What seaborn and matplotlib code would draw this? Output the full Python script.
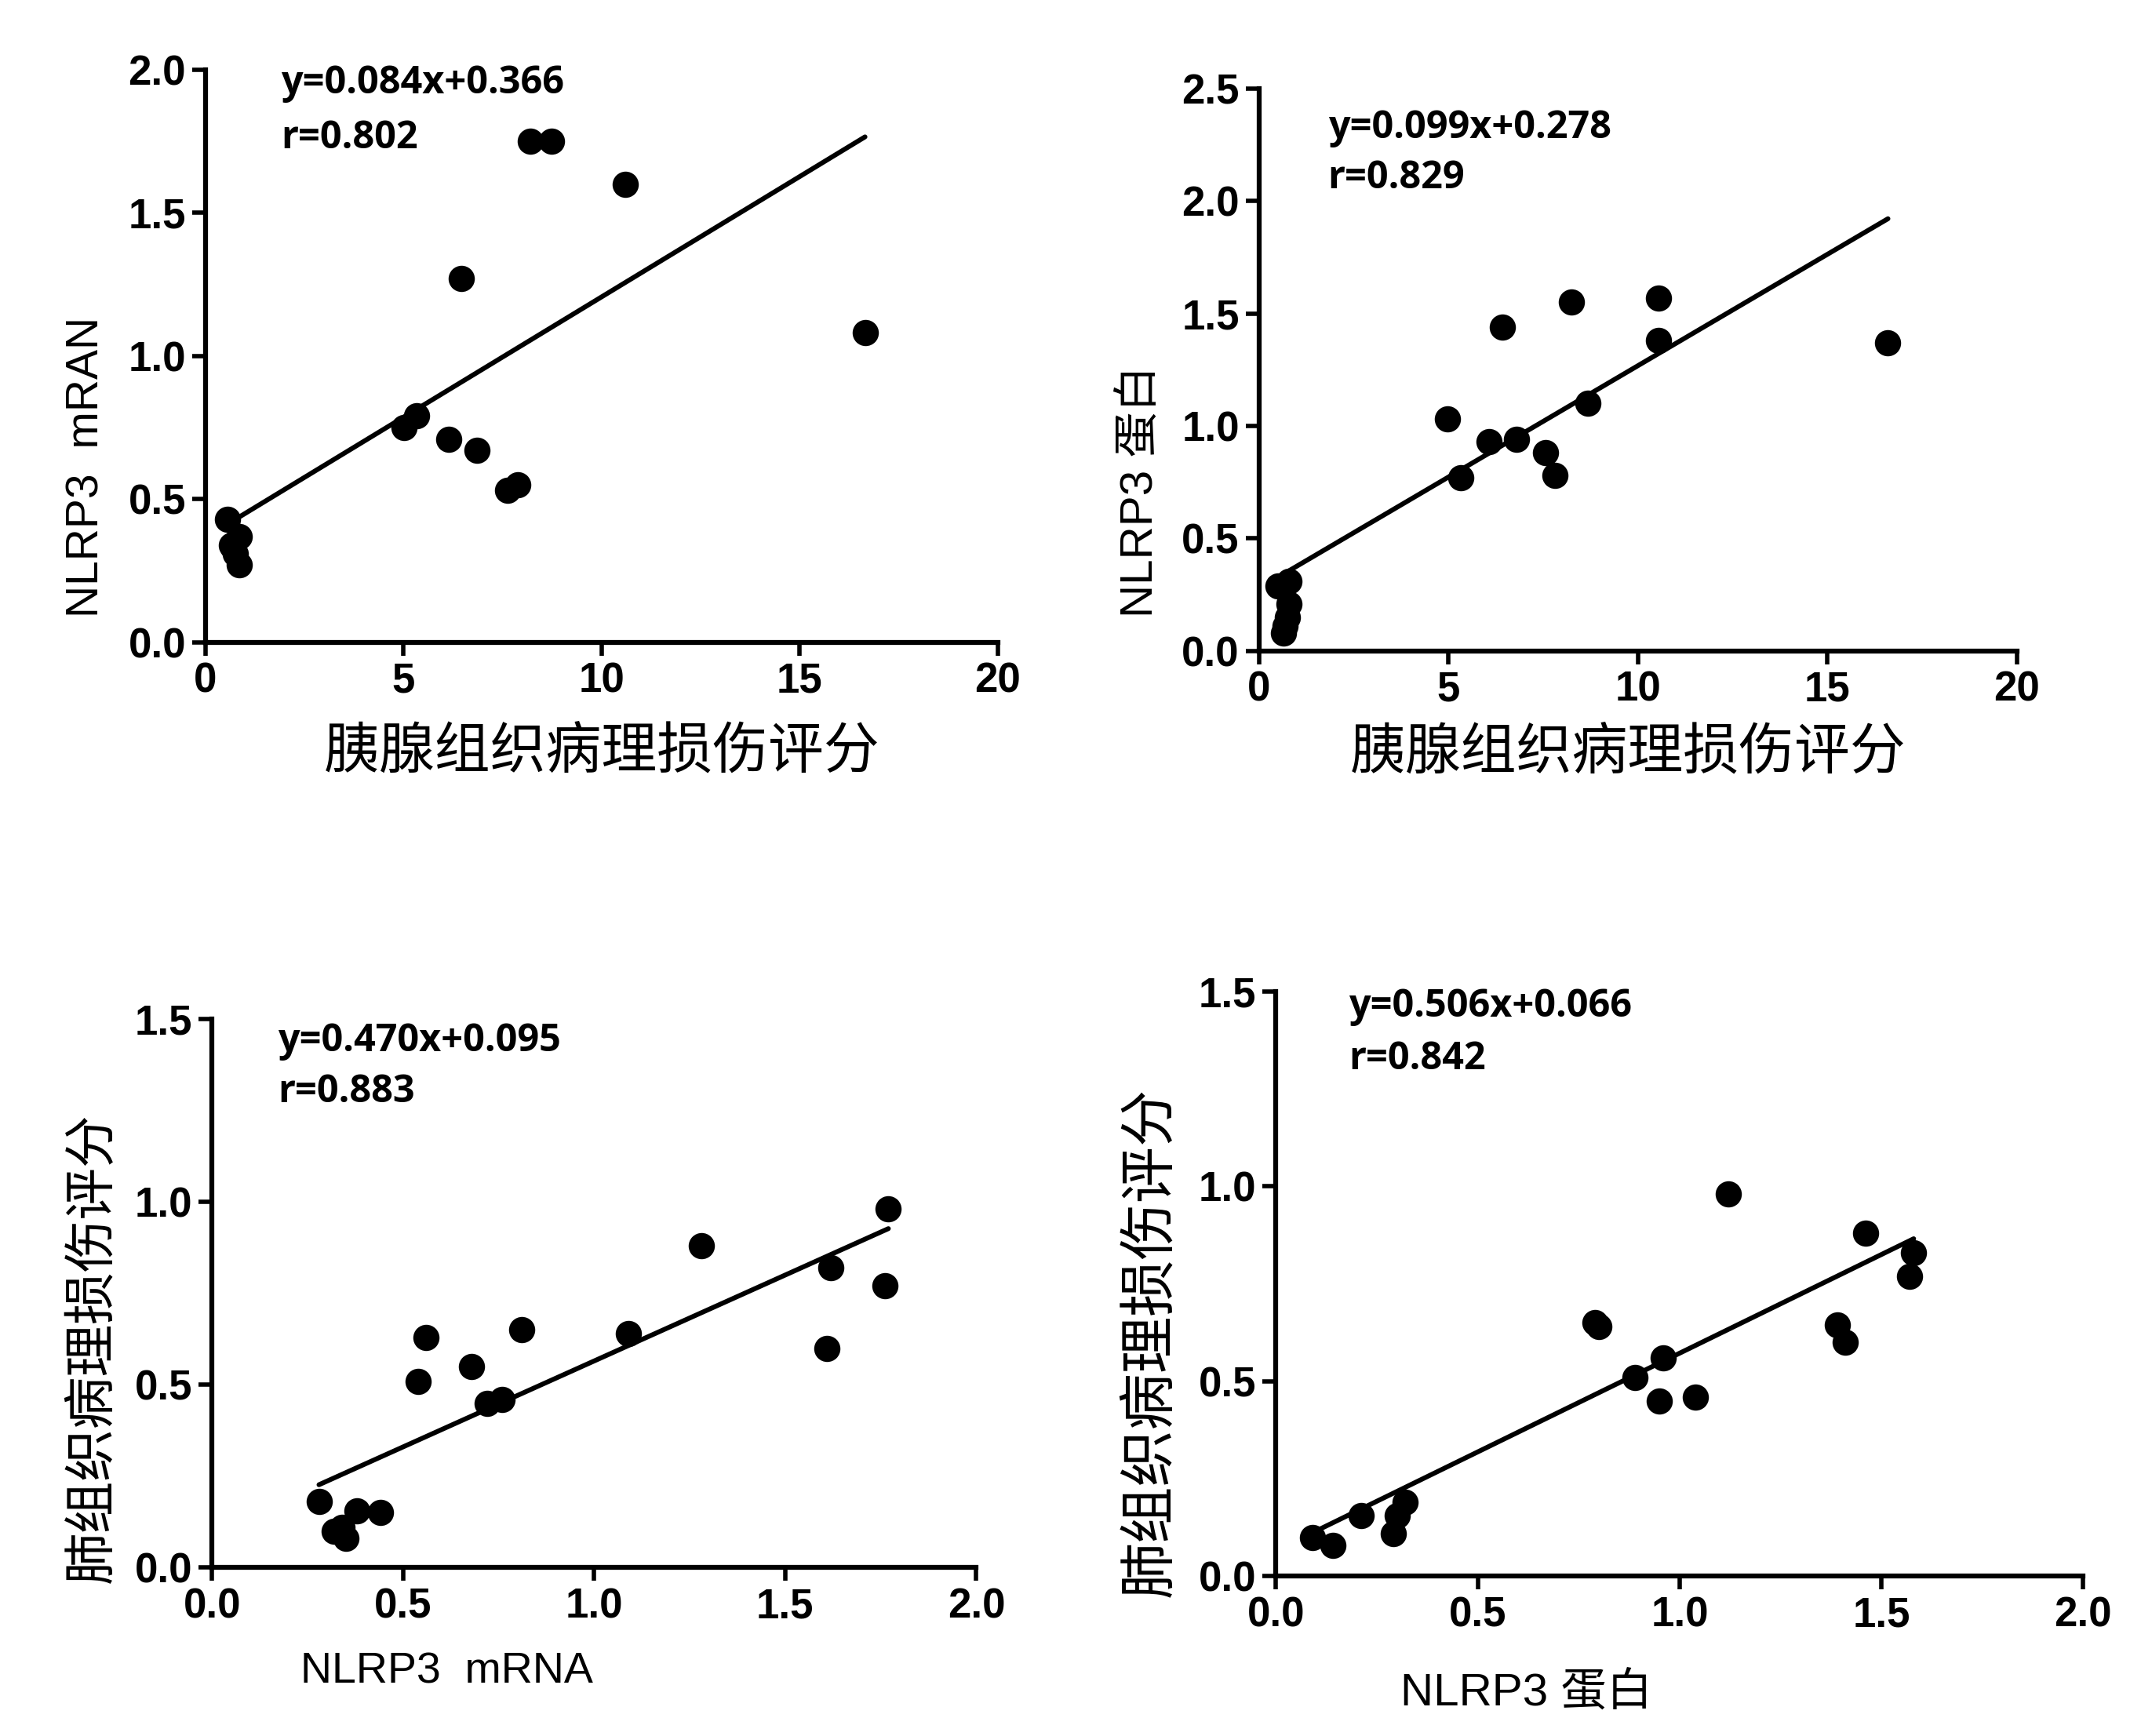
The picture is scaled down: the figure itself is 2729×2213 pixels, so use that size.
import numpy as np
import pandas as pd
import seaborn as sns
import matplotlib.pyplot as plt

# %% data -------------------------------------------------------------
# top left: pancreas score vs NLRP3 mRNA
p1_x = [0.55, 0.65, 0.85, 0.75, 0.85, 0.70, 5.02, 5.33, 6.15, 6.45, 6.85, 7.63, 7.89, 8.20, 8.73, 10.60, 16.65]
p1_y = [0.43, 0.34, 0.37, 0.31, 0.27, 0.33, 0.75, 0.79, 0.71, 1.27, 0.67, 0.53, 0.55, 1.75, 1.75, 1.60, 1.08]

# top right: pancreas score vs NLRP3 protein
p2_x = [0.50, 0.80, 0.80, 0.75, 0.70, 0.65, 4.98, 5.32, 6.08, 6.43, 6.80, 7.56, 7.82, 8.24, 8.69, 10.55, 10.55, 16.60]
p2_y = [0.29, 0.31, 0.21, 0.15, 0.11, 0.08, 1.03, 0.77, 0.93, 1.44, 0.94, 0.88, 0.78, 1.55, 1.10, 1.57, 1.38, 1.37]

# bottom left: NLRP3 mRNA vs lung score
p3_x = [0.28, 0.32, 0.34, 0.35, 0.38, 0.44, 0.54, 0.56, 0.68, 0.72, 0.76, 0.81, 1.09, 1.28, 1.61, 1.62, 1.76, 1.77]
p3_y = [0.18, 0.10, 0.11, 0.08, 0.155, 0.15, 0.51, 0.63, 0.55, 0.45, 0.46, 0.65, 0.64, 0.88, 0.60, 0.82, 0.77, 0.98]

# bottom right: NLRP3 protein vs lung score
p4_x = [0.09, 0.14, 0.21, 0.29, 0.30, 0.32, 0.79, 0.80, 0.89, 0.95, 0.96, 1.04, 1.12, 1.39, 1.41, 1.46, 1.57, 1.58]
p4_y = [0.10, 0.08, 0.155, 0.11, 0.155, 0.19, 0.65, 0.64, 0.51, 0.45, 0.56, 0.46, 0.98, 0.645, 0.60, 0.88, 0.77, 0.83]

# fitted lines as printed on the chart (slope, intercept, r)
fits = [(0.084, 0.366, 0.802), (0.099, 0.278, 0.829), (0.470, 0.095, 0.883), (0.506, 0.066, 0.842)]

xlabels = ['胰腺组织病理损伤评分', '胰腺组织病理损伤评分', 'NLRP3  mRNA', 'NLRP3 蛋白']
ylabels = ['NLRP3  mRAN', 'NLRP3 蛋白', '肺组织病理损伤评分', '肺组织病理损伤评分']
xticks = [[0, 5, 10, 15, 20], [0, 5, 10, 15, 20], [0.0, 0.5, 1.0, 1.5, 2.0], [0.0, 0.5, 1.0, 1.5, 2.0]]
yticks = [[0.0, 0.5, 1.0, 1.5, 2.0], [0.0, 0.5, 1.0, 1.5, 2.0, 2.5],
          [0.0, 0.5, 1.0, 1.5], [0.0, 0.5, 1.0, 1.5]]
xfmt = ['{:.0f}', '{:.0f}', '{:.1f}', '{:.1f}']

# %% layout -----------------------------------------------------------
sns.set_style('ticks')
plt.rcParams['font.family'] = ['Liberation Sans', 'Noto Sans CJK SC', 'DejaVu Sans']
plt.rcParams.update({'text.color': 'black', 'axes.labelcolor': 'black',
                     'xtick.color': 'black', 'ytick.color': 'black'})

# [left, bottom, width, height] in figure fraction
boxes = [[0.096, 0.630, 0.370, 0.330],
         [0.588, 0.625, 0.354, 0.324],
         [0.099, 0.097, 0.357, 0.316],
         [0.596, 0.092, 0.377, 0.337]]
ylab_pos = [(-0.15, 0.306), (-0.156, 0.284), (-0.156, 0.40), (-0.156, 0.40)]
xlab_pos = [(0.50, -0.19), (0.487, -0.18), (0.307, -0.19), (0.31, -0.20)]
txt_pos = [(0.095, 0.976, 0.88), (0.091, 0.93, 0.84), (0.086, 0.96, 0.867), (0.09, 0.974, 0.883)]
xlab_size = [51, 51, 40, 42]
ylab_size = [41, 42, 48, 52]

tick_font = ['Liberation Sans', 'DejaVu Sans']
lab_font = ['Liberation Sans', 'Noto Sans CJK SC', 'DejaVu Sans']
cjk_font = ['Noto Sans CJK SC', 'DejaVu Sans']
ann_font = ['Open Sans', 'DejaVu Sans']

fig = plt.figure(figsize=(27.29, 22.13), dpi=100)

panels = [(p1_x, p1_y), (p2_x, p2_y), (p3_x, p3_y), (p4_x, p4_y)]
for i, (xs, ys) in enumerate(panels):
    ax = fig.add_axes(boxes[i])
    df = pd.DataFrame({'x': xs, 'y': ys})
    sns.scatterplot(data=df, x='x', y='y', ax=ax, color='black', s=580,
                    edgecolor='black', linewidth=0, clip_on=False, zorder=3)
    slope, icpt, r = fits[i]
    lx = np.array([min(xs), max(xs)])
    line = pd.DataFrame({'x': lx, 'y': slope * lx + icpt})
    sns.lineplot(data=line, x='x', y='y', ax=ax, color='black', linewidth=4.4)

    ax.set_xlim(xticks[i][0], xticks[i][-1])
    ax.set_ylim(yticks[i][0], yticks[i][-1])
    ax.set_xticks(xticks[i])
    ax.set_yticks(yticks[i])
    ax.set_xticklabels([xfmt[i].format(v) for v in xticks[i]], fontfamily=tick_font,
                       fontweight='bold', fontsize=38)
    ax.set_yticklabels(['{:.1f}'.format(v) for v in yticks[i]], fontfamily=tick_font,
                       fontweight='bold', fontsize=38)
    ax.tick_params(width=4, length=12, pad=6, color='black')
    for side in ['top', 'right']:
        ax.spines[side].set_visible(False)
    for side in ['left', 'bottom']:
        ax.spines[side].set_linewidth(4.5)
        ax.spines[side].set_color('black')

    ax.set_xlabel(xlabels[i], fontsize=xlab_size[i], fontfamily=cjk_font if i < 2 else lab_font)
    ax.xaxis.set_label_coords(*xlab_pos[i])
    ax.xaxis.label.set_verticalalignment('center')
    ax.set_ylabel(ylabels[i], fontsize=ylab_size[i], fontfamily=cjk_font if i >= 2 else lab_font)
    ax.yaxis.set_label_coords(*ylab_pos[i])
    ax.yaxis.label.set_verticalalignment('center')

    tx, ty1, ty2 = txt_pos[i]
    ax.text(tx, ty1, 'y={:.3f}x+{:.3f}'.format(slope, icpt), transform=ax.transAxes,
            fontsize=35, fontweight='bold', fontfamily=ann_font, va='center', ha='left')
    ax.text(tx, ty2, 'r={:.3f}'.format(r), transform=ax.transAxes,
            fontsize=35, fontweight='bold', fontfamily=ann_font, va='center', ha='left')

fig.savefig('out.png', dpi=100, facecolor='white')
